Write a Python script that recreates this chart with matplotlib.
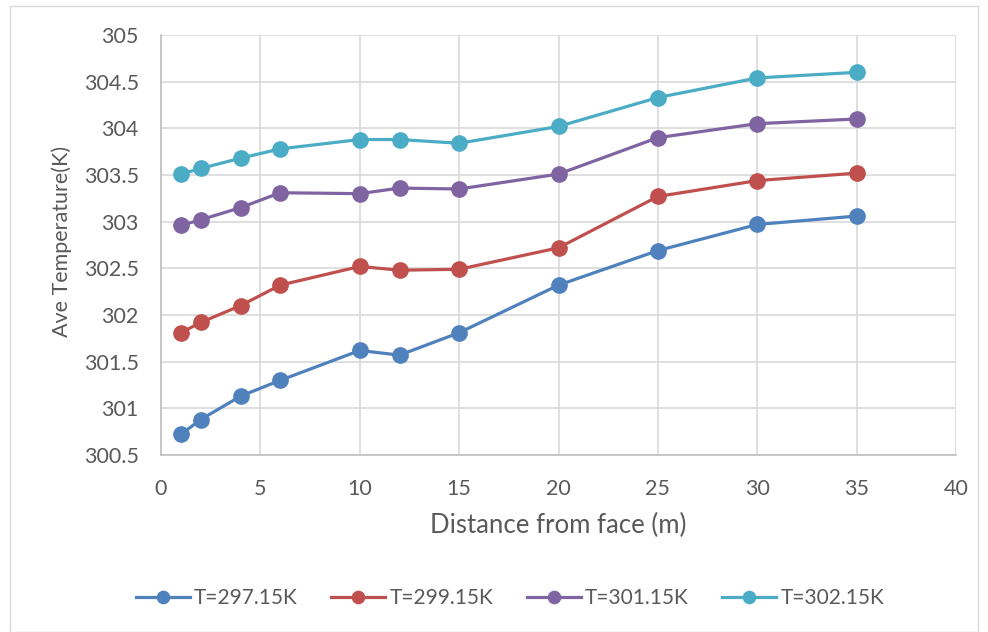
import matplotlib
matplotlib.use("Agg")
import matplotlib.pyplot as plt
from matplotlib.patches import Rectangle

plt.rcParams['font.family'] = ['Lato', 'DejaVu Sans']

distance = [1, 2, 4, 6, 10, 12, 15, 20, 25, 30, 35]
t_297 = [300.72, 300.88, 301.13, 301.30, 301.62, 301.57, 301.81, 302.32, 302.69, 302.97, 303.06]
t_299 = [301.81, 301.92, 302.10, 302.32, 302.52, 302.48, 302.49, 302.72, 303.27, 303.44, 303.52]
t_301 = [302.96, 303.02, 303.15, 303.31, 303.30, 303.36, 303.35, 303.51, 303.90, 304.05, 304.10]
t_302 = [303.51, 303.57, 303.68, 303.78, 303.88, 303.88, 303.84, 304.02, 304.33, 304.54, 304.60]

series = [
    ("T=297.15K", t_297, "#4F81BD"),
    ("T=299.15K", t_299, "#C0504D"),
    ("T=301.15K", t_301, "#8064A2"),
    ("T=302.15K", t_302, "#4BACC6"),
]

x_ticks = [0, 5, 10, 15, 20, 25, 30, 35, 40]
y_ticks = [300.5, 301, 301.5, 302, 302.5, 303, 303.5, 304, 304.5, 305]

text_color = "#595959"

fig = plt.figure(figsize=(9.88, 6.32), dpi=100)
fig.patches.append(Rectangle((10 / 988, 0), 1 - 20 / 988, 1 - 6 / 632,
                             transform=fig.transFigure, fill=False,
                             edgecolor="#D9D9D9", linewidth=1.0))
ax = fig.add_axes([161 / 988, 1 - 455 / 632, (956 - 161) / 988, (455 - 35) / 632])

for label, vals, color in series:
    ax.plot(distance, vals, color=color, linewidth=2.3, marker="o",
            markersize=11, label=label, zorder=3)

ax.set_xlim(0, 40)
ax.set_ylim(300.5, 305)
ax.set_xticks(x_ticks)
ax.set_yticks(y_ticks)
ax.set_yticklabels([f"{v:g}" for v in y_ticks])
ax.grid(True, color="#D9D9D9", linewidth=1.2, zorder=0)
ax.set_axisbelow(True)
for side in ["top", "right"]:
    ax.spines[side].set_visible(False)
for side in ["left", "bottom"]:
    ax.spines[side].set_color("#BFBFBF")
    ax.spines[side].set_linewidth(1.2)
ax.tick_params(axis="both", length=0, labelsize=15.5, labelcolor=text_color)
ax.tick_params(axis="x", pad=17)
ax.tick_params(axis="y", pad=16)

ax.set_xlabel("Distance from face (m)", fontsize=18.5, color=text_color)
ax.xaxis.set_label_coords(0.5, (455 - 525) / 420)
ax.xaxis.label.set_va("center")
ax.set_ylabel("Ave Temperature(K)", fontsize=15.5, color=text_color)
ax.yaxis.set_label_coords((62 - 161) / 795, (455 - 241) / 420)
ax.yaxis.label.set_va("center")

fig.legend(loc="center", bbox_to_anchor=(510 / 988, 1 - 598 / 632), ncol=4, frameon=False,
           fontsize=15, labelcolor=text_color, handlelength=2.6, handletextpad=0.2,
           columnspacing=1.6, markerscale=0.8)

fig.savefig("out.png", dpi=100)
